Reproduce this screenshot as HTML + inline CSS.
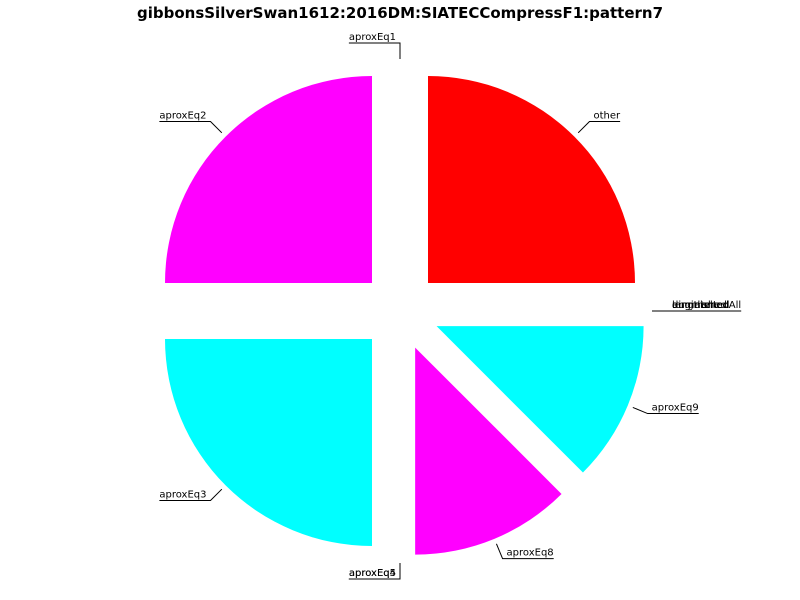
<!DOCTYPE html>
<html><head><meta charset="utf-8"><style>
body{margin:0;background:#fff}
svg{display:block;font-family:"DejaVu Sans","Liberation Sans",sans-serif}
</style></head><body>
<svg id="chart" width="800" height="600">
<text x="400" y="18" text-anchor="middle" font-weight="bold" font-size="15">gibbonsSilverSwan1612:2016DM:SIATECCompressF1:pattern7</text>
</svg>
<script>
const labels = ["aproxEq1","aproxEq2","aproxEq3","aproxEq4","aproxEq5","aproxEq8","aproxEq9","lengthened","augmented","diminished","unmatchedAll","other"];
const values = [0,0.25,0.25,0,0,0.125,0.125,0,0,0,0,0.25];
const colors = ["#0ff","#f0f","#0ff","#f0f","#0ff","#f0f","#0ff","#f0f","#0ff","#f0f","#0ff","#f00"];
const svg=document.getElementById('chart');
const NS="http://www.w3.org/2000/svg";
const cx=400,cy=311,R=207,EX=39.6,LR=252;
const total=values.reduce((a,b)=>a+b,0);
let ang=Math.PI/2;
values.forEach((v,i)=>{
  const sweep=v/total*2*Math.PI;
  const a0=ang,a1=ang+sweep,mid=(a0+a1)/2;
  ang=a1;
  const ox=cx+EX*Math.cos(mid),oy=cy-EX*Math.sin(mid);
  if(sweep>0){
    const p=document.createElementNS(NS,'path');
    const x0=ox+R*Math.cos(a0),y0=oy-R*Math.sin(a0),x1=ox+R*Math.cos(a1),y1=oy-R*Math.sin(a1);
    p.setAttribute('d',`M${ox},${oy}L${x0},${y0}A${R},${R} 0 ${sweep>Math.PI?1:0} 0 ${x1},${y1}Z`);
    p.setAttribute('fill',colors[i]);
    
    
    svg.appendChild(p);
  }
  const c=Math.cos(mid),s=Math.sin(mid);
  const sx=cx+LR*c,sy=cy-LR*s,ex=cx+(LR+16)*c,ey=cy-(LR+16)*s;
  const right=c>1e-6;
  const t=document.createElementNS(NS,'text');
  t.setAttribute('font-size','10');
  t.setAttribute('y',ey-3);
  t.textContent=labels[i];
  
  
  svg.appendChild(t);
  const w=t.getComputedTextLength();
  let hx;
  if(right){t.setAttribute('x',ex+4);hx=ex+4+w;}
  else{hx=ex-w-4;t.setAttribute('x',hx);}
  const l=document.createElementNS(NS,'polyline');
  l.setAttribute('points',`${sx},${sy} ${ex},${ey} ${hx},${ey}`);
  l.setAttribute('fill','none');l.setAttribute('stroke','#000');l.setAttribute('stroke-width','1');
  
  
  svg.appendChild(l);
});
</script>
</body></html>
